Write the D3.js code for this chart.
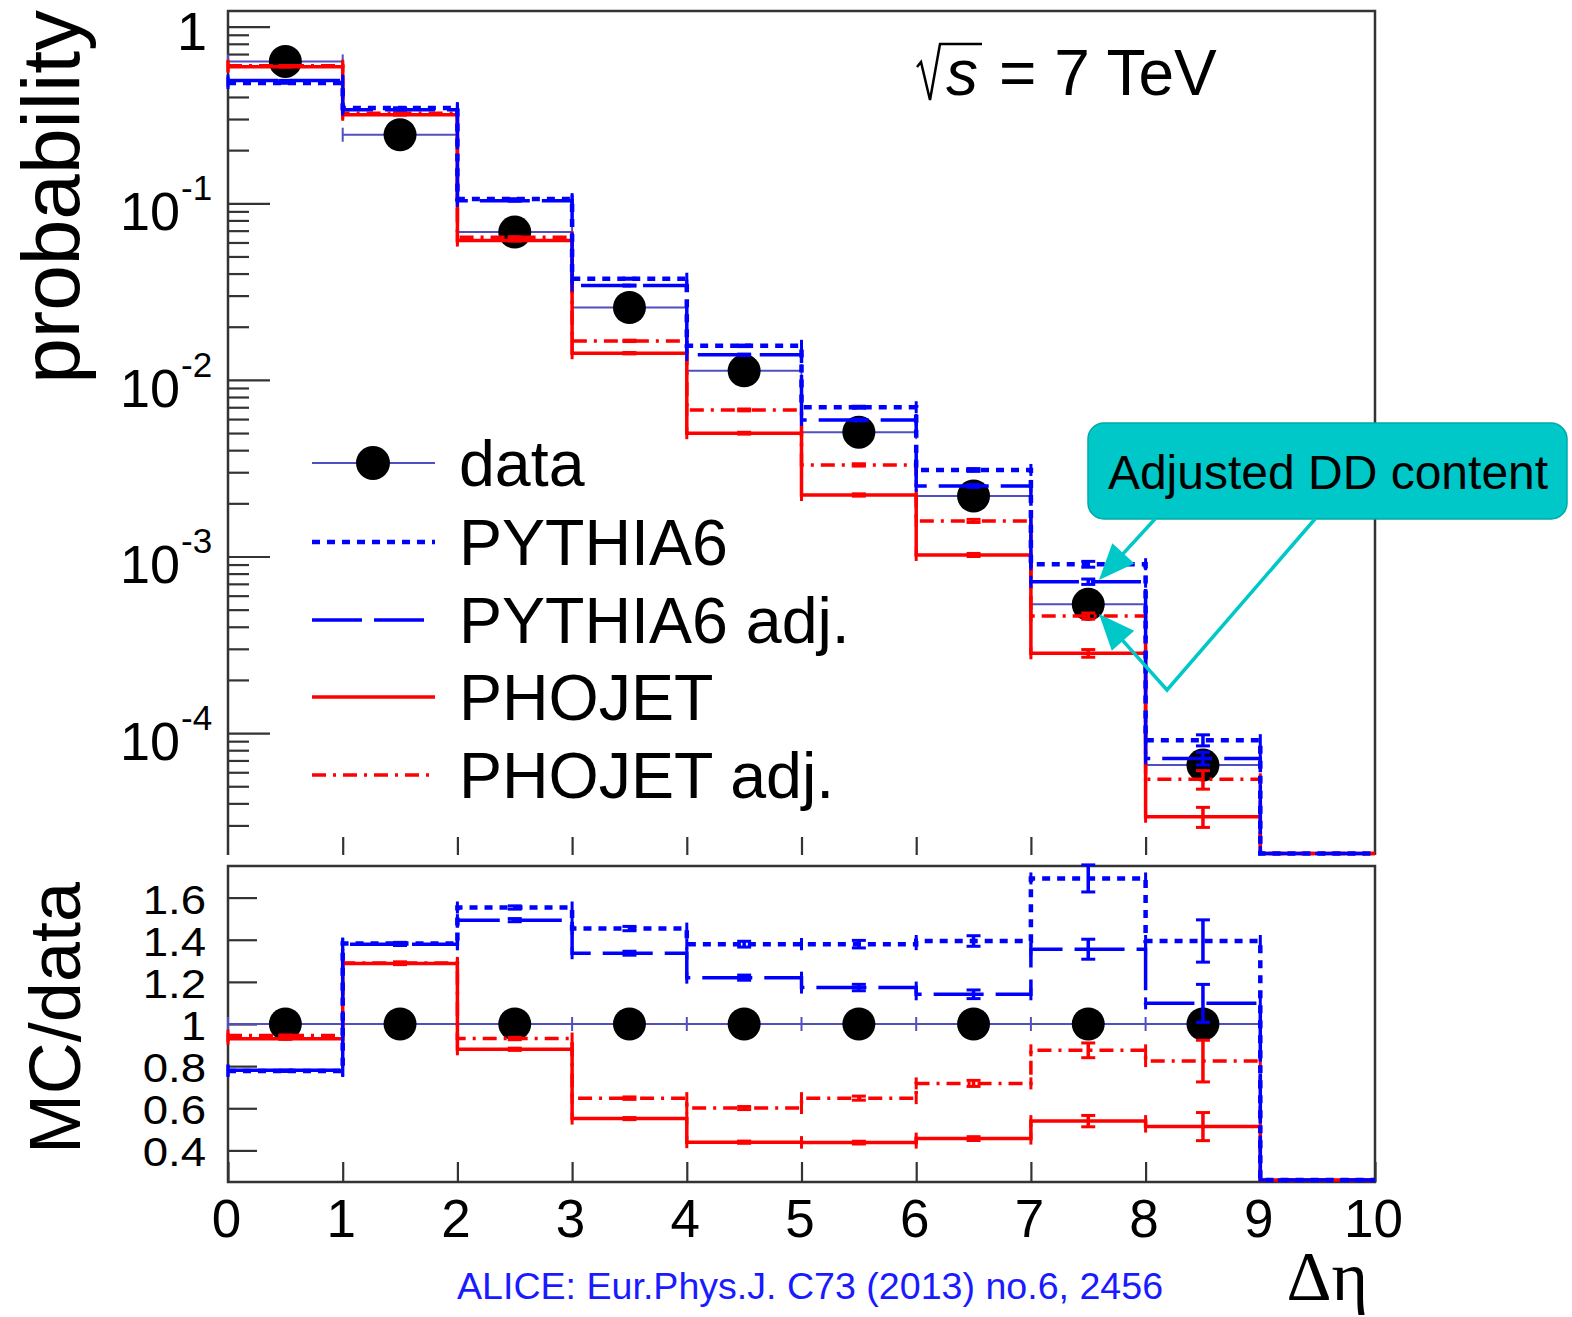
<!DOCTYPE html>
<html>
<head>
<meta charset="utf-8">
<script src="https://cdn.jsdelivr.net/npm/d3@7"></script>
<style>
  body { margin: 0; background: #fff; }
  svg { display: block; }
  text { font-family: "Liberation Sans", Arial, Helvetica, sans-serif; }
</style>
</head>
<body>
<svg id="chart" width="1572" height="1317"></svg>
<script>
// ---- data: Δη bins 0..10, one value per bin ----
const binEdges = [0, 1, 2, 3, 4, 5, 6, 7, 8, 9, 10];

// probability per bin (upper panel)
const dataProb      = [0.636, 0.2445, 0.0687, 0.0257, 0.01125, 0.00506, 0.00220, 5.36e-4, 6.59e-5];
const pythiaProb    = [0.480, 0.346, 0.1056, 0.0374, 0.01559, 0.00700, 0.00309, 9.04e-4, 9.12e-5, 0];
const pythiaAdjProb = [0.495, 0.339, 0.1033, 0.0342, 0.01386, 0.00593, 0.00251, 7.20e-4, 7.19e-5, 0];
const phojetProb    = [0.593, 0.317, 0.0615, 0.01416, 0.00499, 0.00223, 0.00102, 2.83e-4, 3.36e-5, 0];
const phojetAdjProb = [0.601, 0.324, 0.0643, 0.01663, 0.00676, 0.00330, 0.00159, 4.60e-4, 5.47e-5, 0];

// MC/data ratio per bin (lower panel)
const dataRatio      = [1, 1, 1, 1, 1, 1, 1, 1, 1];
const pythiaRatio    = [0.777, 1.382, 1.553, 1.453, 1.379, 1.379, 1.394, 1.691, 1.394, 0];
const pythiaAdjRatio = [0.780, 1.378, 1.493, 1.336, 1.220, 1.173, 1.141, 1.355, 1.098, 0];
const phojetRatio    = [0.930, 1.287, 0.880, 0.551, 0.439, 0.437, 0.456, 0.539, 0.513, 0];
const phojetAdjRatio = [0.945, 1.290, 0.931, 0.648, 0.601, 0.648, 0.718, 0.875, 0.824, 0];

// relative statistical uncertainty of each MC bin
const pythiaRelErr    = [0.003, 0.004, 0.005, 0.007, 0.010, 0.013, 0.018, 0.038, 0.072];
const pythiaAdjRelErr = [0.003, 0.004, 0.005, 0.007, 0.010, 0.013, 0.018, 0.035, 0.082];
const phojetRelErr    = [0.003, 0.004, 0.006, 0.009, 0.012, 0.015, 0.020, 0.050, 0.130];
const phojetAdjRelErr = [0.003, 0.004, 0.006, 0.009, 0.012, 0.015, 0.020, 0.040, 0.120];

// axis ticks and labels
const xTicks = [0, 1, 2, 3, 4, 5, 6, 7, 8, 9, 10];
const logMajorTicks = [1, 1e-1, 1e-2, 1e-3, 1e-4];
const logMajorExp = [0, -1, -2, -3, -4];
const ratioTicks = [0.4, 0.6, 0.8, 1.0, 1.2, 1.4, 1.6];
const ratioTickLabels = ["0.4", "0.6", "0.8", "1", "1.2", "1.4", "1.6"];

const legendLabels = ["data", "PYTHIA6", "PYTHIA6 adj.", "PHOJET", "PHOJET adj."];

// ---- layout ----
const svg = d3.select("#chart");
const X0 = 228, X1 = 1375;
const TOP_Y0 = 11, TOP_Y1 = 855;
const RAT_Y0 = 866, RAT_Y1 = 1182;
const AXIS = "#333";

const x = d3.scaleLinear().domain([0, 10]).range([X0, X1]);
const yTop = d3.scaleLog().domain([2.04e-5, 1.227]).range([TOP_Y1, TOP_Y0]);
const yRat = d3.scaleLinear().domain([0.25, 1.75]).range([RAT_Y1, RAT_Y0]);

const DATA_LINE = "#4f4fc2";
const series = [
  { name: "PHOJET",       top: phojetProb,    ratio: phojetRatio,    err: phojetRelErr,    color: "#ff0000", dash: null,          width: 3.5 },
  { name: "PHOJET adj.",  top: phojetAdjProb, ratio: phojetAdjRatio, err: phojetAdjRelErr, color: "#ff0000", dash: "14,7,3,7",    width: 3.5 },
  { name: "PYTHIA6 adj.", top: pythiaAdjProb, ratio: pythiaAdjRatio, err: pythiaAdjRelErr, color: "#0000ff", dash: "50,12",       width: 3.5 },
  { name: "PYTHIA6",      top: pythiaProb,    ratio: pythiaRatio,    err: pythiaRelErr,    color: "#0000ff", dash: "8,7",         width: 4.5 }
];

// ---- frames ----
const frame = svg.append("g").attr("stroke", AXIS).attr("fill", "none");
frame.append("path").attr("stroke-width", 2.5)
  .attr("d", `M${X0},${TOP_Y1}V${TOP_Y0}H${X1}V${TOP_Y1}`);
frame.append("rect").attr("stroke-width", 2.5)
  .attr("x", X0).attr("y", RAT_Y0).attr("width", X1 - X0).attr("height", RAT_Y1 - RAT_Y0);

function styleAxis(g, w) {
  g.select(".domain").remove();
  g.selectAll(".tick line").attr("stroke", AXIS).attr("stroke-width", w);
}

// ---- upper panel axes ----
const logMinorTicks = [];
for (let e = -5; e <= -1; e++) {
  for (let m = 2; m <= 9; m++) {
    const v = m * Math.pow(10, e);
    if (v > yTop.domain()[0] && v < yTop.domain()[1]) logMinorTicks.push(v);
  }
}
svg.append("g").attr("transform", `translate(${X0},0)`)
  .call(d3.axisLeft(yTop).tickValues(logMajorTicks).tickSize(-42).tickFormat(""))
  .call(g => styleAxis(g, 2.2));
svg.append("g").attr("transform", `translate(${X0},0)`)
  .call(d3.axisLeft(yTop).tickValues(logMinorTicks).tickSize(-21).tickFormat(""))
  .call(g => styleAxis(g, 2.2));
svg.append("g").attr("transform", `translate(0,${TOP_Y1})`)
  .call(d3.axisBottom(x).tickValues(xTicks.slice(1, -1)).tickSize(-18).tickFormat(""))
  .call(g => styleAxis(g, 2.2));

// log labels: "1" and 10^n
const logLab = svg.append("g").attr("fill", "#000");
logMajorTicks.forEach((v, i) => {
  const yy = yTop(v);
  if (logMajorExp[i] === 0) {
    logLab.append("text").attr("x", 207).attr("y", yy + 23)
      .attr("text-anchor", "end").attr("font-size", 54).text("1");
  } else {
    logLab.append("text").attr("x", 180).attr("y", yy + 27)
      .attr("text-anchor", "end").attr("font-size", 54).text("10");
    logLab.append("text").attr("x", 181).attr("y", yy - 3)
      .attr("text-anchor", "start").attr("font-size", 35).text(String(logMajorExp[i]));
  }
});

// ---- lower panel axes ----
svg.append("g").attr("transform", `translate(${X0},0)`)
  .call(d3.axisLeft(yRat).tickValues(ratioTicks).tickSize(-29).tickFormat(""))
  .call(g => styleAxis(g, 2.2));
svg.append("g").attr("transform", `translate(0,${RAT_Y1})`)
  .call(d3.axisBottom(x).tickValues(xTicks).tickSize(-20).tickPadding(17).tickFormat(d3.format("d")))
  .call(g => styleAxis(g, 2.2))
  .call(g => g.attr("font-size", null).attr("font-family", null))
  .call(g => g.selectAll(".tick text").attr("font-size", 53).attr("fill", "#000").attr("dx", -2));

ratioTicks.forEach((v, i) => {
  svg.append("text")
    .attr("transform", `translate(206,${yRat(v) + 16}) scale(1.14,1)`)
    .attr("text-anchor", "end").attr("font-size", 40).attr("fill", "#000")
    .text(ratioTickLabels[i]);
});

// axis titles
svg.append("text").attr("transform", "translate(79,10) rotate(-90)")
  .attr("text-anchor", "end").attr("font-size", 82).text("probability");
svg.append("text").attr("transform", "translate(80,882) rotate(-90)")
  .attr("text-anchor", "end").attr("font-size", 72).text("MC/data");
svg.append("text").attr("x", 1368).attr("y", 1300)
  .attr("text-anchor", "end").attr("font-size", 70)
  .style("font-family", '"Liberation Serif", "DejaVu Serif", serif').text("Δη");

// ---- histogram helpers ----
function stepPath(vals, yScale, floorY) {
  const p = d3.path();
  vals.forEach((v, i) => {
    let yy = yScale(v);
    if (!(v > 0) || !isFinite(yy) || yy > floorY) yy = floorY;
    if (i === 0) p.moveTo(x(binEdges[0]), yy); else p.lineTo(x(binEdges[i]), yy);
    p.lineTo(x(binEdges[i + 1]), yy);
  });
  return p.toString();
}

function drawSeries(g, s, vals, yScale, floorY) {
  const sg = g.append("g").attr("fill", "none").attr("stroke", s.color);
  sg.append("path").attr("d", stepPath(vals, yScale, floorY))
    .attr("stroke-width", s.width).attr("stroke-dasharray", s.dash);
  // bin edge marks and error bars for the filled bins
  s.err.forEach((rel, i) => {
    const v = vals[i];
    if (!(v > 0)) return;
    const yy = yScale(v);
    [binEdges[i], binEdges[i + 1]].forEach(e => {
      sg.append("line").attr("x1", x(e)).attr("x2", x(e))
        .attr("y1", yy - 6).attr("y2", yy + 6).attr("stroke-width", 3);
    });
    const cx = x((binEdges[i] + binEdges[i + 1]) / 2);
    const yLo = yScale(v * (1 - rel)), yHi = yScale(v * (1 + rel));
    sg.append("line").attr("x1", cx).attr("x2", cx).attr("y1", yLo).attr("y2", yHi)
      .attr("stroke-width", 3.5);
    [yLo, yHi].forEach(yc => {
      sg.append("line").attr("x1", cx - 7).attr("x2", cx + 7).attr("y1", yc).attr("y2", yc)
        .attr("stroke-width", 3);
    });
  });
}

// ---- upper panel ----
const topPanel = svg.append("g");
dataProb.forEach((v, i) => {
  const yy = yTop(v);
  topPanel.append("line").attr("x1", x(binEdges[i])).attr("x2", x(binEdges[i + 1]))
    .attr("y1", yy).attr("y2", yy).attr("stroke", DATA_LINE).attr("stroke-width", 2);
  [binEdges[i], binEdges[i + 1]].forEach(e => {
    topPanel.append("line").attr("x1", x(e)).attr("x2", x(e)).attr("y1", yy - 7).attr("y2", yy + 7)
      .attr("stroke", DATA_LINE).attr("stroke-width", 2);
  });
});
topPanel.selectAll("circle.data").data(dataProb).join("circle")
  .attr("cx", (d, i) => x(i + 0.5)).attr("cy", d => yTop(d)).attr("r", 16.5).attr("fill", "#000");
series.forEach(s => drawSeries(topPanel, s, s.top, yTop, TOP_Y1 - 1.5));

// ---- lower panel ----
const ratPanel = svg.append("g");
ratPanel.append("line").attr("x1", x(binEdges[0])).attr("x2", x(binEdges[dataRatio.length]))
  .attr("y1", yRat(1)).attr("y2", yRat(1)).attr("stroke", DATA_LINE).attr("stroke-width", 2);
binEdges.slice(0, dataRatio.length + 1).forEach(e => {
  ratPanel.append("line").attr("x1", x(e)).attr("x2", x(e)).attr("y1", yRat(1) - 7).attr("y2", yRat(1) + 7)
    .attr("stroke", DATA_LINE).attr("stroke-width", 2);
});
ratPanel.selectAll("circle.data").data(dataRatio).join("circle")
  .attr("cx", (d, i) => x(i + 0.5)).attr("cy", d => yRat(d)).attr("r", 16.5).attr("fill", "#000");
series.forEach(s => drawSeries(ratPanel, s, s.ratio, yRat, RAT_Y1 - 2));

// ---- legend ----
const legRows = [463, 542, 620, 697, 775];
const legend = svg.append("g");
const legX0 = 312, legX1 = 435;
legend.append("line").attr("x1", legX0).attr("x2", legX1).attr("y1", legRows[0]).attr("y2", legRows[0])
  .attr("stroke", DATA_LINE).attr("stroke-width", 2);
legend.append("circle").attr("cx", 373).attr("cy", legRows[0]).attr("r", 17).attr("fill", "#000");
const legSeries = [series[3], series[2], series[0], series[1]];
legSeries.forEach((s, i) => {
  legend.append("line").attr("x1", legX0).attr("x2", legX1)
    .attr("y1", legRows[i + 1]).attr("y2", legRows[i + 1])
    .attr("stroke", s.color).attr("stroke-width", s.width).attr("stroke-dasharray", s.dash);
});
legendLabels.forEach((t, i) => {
  legend.append("text").attr("x", 459).attr("y", legRows[i] + 23)
    .attr("font-size", 64.5).attr("fill", "#000").text(t);
});

// ---- energy label ----
const en = svg.append("g");
en.append("path").attr("d", "M917,67 L921,62 L930,100 L940,44 L982,44")
  .attr("fill", "none").attr("stroke", "#000").attr("stroke-width", 2.5);
en.append("text").attr("x", 946).attr("y", 95).attr("font-size", 64)
  .attr("font-style", "italic").text("s");
en.append("text").attr("x", 999).attr("y", 95).attr("font-size", 64).text("= 7 TeV");

// ---- callout ----
const TEAL = "#00c8c8";
const call = svg.append("g");
call.append("rect").attr("x", 1088).attr("y", 423).attr("width", 479).attr("height", 96).attr("rx", 16)
  .attr("fill", TEAL).attr("stroke", "#00a9a9").attr("stroke-width", 1.5);
call.append("text").attr("x", 1328).attr("y", 489).attr("text-anchor", "middle")
  .attr("font-size", 48).attr("fill", "#000").text("Adjusted DD content");

function arrow(points) {
  const n = points.length;
  const [tx, ty] = points[n - 1], [px, py] = points[n - 2];
  const L = Math.hypot(tx - px, ty - py), ux = (tx - px) / L, uy = (ty - py) / L;
  const len = 36, hw = 15;
  const bx = tx - ux * len, by = ty - uy * len;
  call.append("polyline")
    .attr("points", points.slice(0, n - 1).concat([[bx + ux * 4, by + uy * 4]]).map(p => p.join(",")).join(" "))
    .attr("fill", "none").attr("stroke", TEAL).attr("stroke-width", 3.5);
  call.append("polygon")
    .attr("points", [[tx, ty], [bx - uy * hw, by + ux * hw], [bx + uy * hw, by - ux * hw]].map(p => p.join(",")).join(" "))
    .attr("fill", TEAL);
}
arrow([[1155, 519], [1099, 580]]);
arrow([[1315, 519], [1167, 690], [1099, 614]]);

// ---- reference ----
svg.append("text").attr("x", 457).attr("y", 1299).attr("font-size", 37.6).attr("fill", "#1a1aff")
  .text("ALICE: Eur.Phys.J. C73 (2013) no.6, 2456");
</script>
</body>
</html>
